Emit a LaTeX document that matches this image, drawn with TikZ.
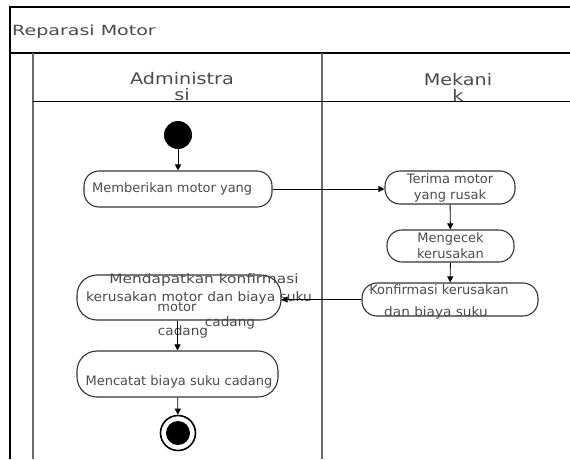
\documentclass[tikz,border=0pt]{standalone}
\usepackage{fontspec}
\setmainfont{DejaVu Sans}
\usetikzlibrary{arrows.meta}
\definecolor{txt}{HTML}{4A4A55}
\definecolor{boxc}{HTML}{333333}
\definecolor{lanec}{HTML}{6A6A6A}
\tikzset{
  act/.style={draw=boxc, line width=1.1pt, rounded corners=15pt, inner sep=0pt, text=txt,
    font=\fontsize{13}{16}\selectfont, align=center},
  lbl/.style={text=txt, inner sep=0pt, font=\fontsize{13}{16}\selectfont},
  flow/.style={draw=black, line width=0.9pt, -{Triangle[length=6pt,width=6pt]}},
  frame/.style={draw=black, line width=1.2pt},
  lane/.style={draw=lanec, line width=1.4pt},
}
\begin{document}
\begin{tikzpicture}[x=1pt,y=-1pt]
\useasboundingbox (0,0) rectangle (570,459);
% swimlane frame
\draw[frame] (10,459) -- (10,7) -- (575,7);
\draw[frame] (10,53) -- (575,53);
\draw[lane] (33,53) -- (33,459);
\draw[lane] (322,53) -- (322,459);
\node[anchor=west, text=txt, inner sep=0pt, font=\fontsize{14}{16}\selectfont] (title) at (12,32) {\scalebox{1.36}[1]{Reparasi Motor}};
\begin{scope}
\clip (33,53) rectangle (575,101);
\node[text=txt, inner sep=0pt, font=\fontsize{16}{16}\selectfont, align=center] (h1) at (182,87) {\scalebox{1.2}[1]{Administra}\\\scalebox{1.2}[1]{si}};
\node[text=txt, inner sep=0pt, font=\fontsize{16}{16}\selectfont, align=center] (h2) at (458,87) {\scalebox{1.2}[1]{Mekani}\\\scalebox{1.2}[1]{k}};
\end{scope}
\draw[frame, line width=1pt] (33,101) -- (575,101);
% nodes
\node[circle, fill=black, minimum size=28pt, inner sep=0pt] (start) at (178,135) {};
\node[act, minimum width=188pt, minimum height=36pt] (n1) at (178,189) {};
\node[act, minimum width=130pt, minimum height=33pt] (n2) at (450,187.5) {Terima motor\\yang rusak};
\node[act, minimum width=127pt, minimum height=32pt] (n3) at (450.5,246) {Mengecek\\kerusakan};
\node[act, minimum width=176pt, minimum height=33pt] (n4) at (450,299.5) {};
\node[act, minimum width=204pt, minimum height=45pt, rounded corners=20pt] (n5) at (179,297.5) {};
\node[act, minimum width=201pt, minimum height=46pt, rounded corners=20pt] (n6) at (177.5,374) {};
\node[circle, draw=black, line width=1.6pt, minimum size=35pt, inner sep=0pt] (end) at (178,433) {};
\node[circle, fill=black, minimum size=24pt, inner sep=0pt] (endin) at (end) {};
% texts
\node[lbl, anchor=west] (t1) at (92,189) {Memberikan motor yang};
\node[lbl] (t4a) at (439,290) {Konfirmasi kerusakan};
\node[lbl] (t4b) at (436,313) {\scalebox{1.05}[1]{dan biaya suku}};
\node[lbl] (t5a) at (204,280) {\scalebox{1.18}[1]{Mendapatkan konfirmasi}};
\node[lbl] (t5b) at (199,298) {\scalebox{1.06}[1]{kerusakan motor dan biaya suku}};
\node[lbl] (t5c) at (177,307) {motor};
\node[lbl] (t5d) at (230,323) {\scalebox{1.05}[1]{cadang}};
\node[lbl] (t5e) at (183,332) {\scalebox{1.05}[1]{cadang}};
\node[lbl] (t6) at (179,382) {Mencatat biaya suku cadang};
% connectors
\draw[flow] (start) -- (n1);
\draw[flow] (n1.east) -- (n1.east -| n2.west);
\draw[flow] (n2) -- (n3);
\draw[flow] (n3) -- (n4);
\draw[flow] (n4.west) -- (n4.west -| n5.east);
\draw[flow] (n5.south -| n6.north) -- (n6.north);
\draw[flow] (n6) -- (end);
\end{tikzpicture}
\end{document}
